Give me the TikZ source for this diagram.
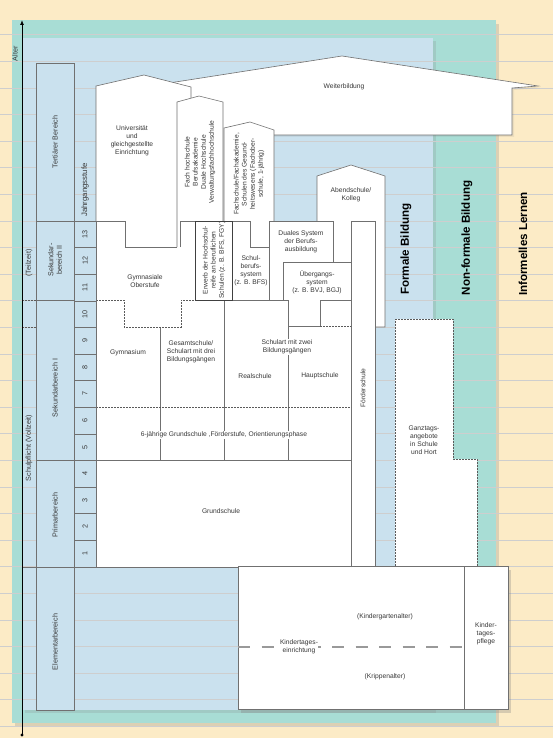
\documentclass[tikz,border=0pt]{standalone}
\usepackage{fontspec}
\setmainfont{Liberation Sans}
\usetikzlibrary{shadows,arrows.meta}
\definecolor{bgbeige}{RGB}{252,235,198}
\definecolor{bgteal}{RGB}{168,221,213}
\definecolor{bgblue}{RGB}{202,225,238}
\definecolor{gridgray}{RGB}{206,206,206}
\definecolor{linegray}{RGB}{112,112,112}
\definecolor{txtgray}{RGB}{55,55,55}
\tikzset{box/.style={draw=linegray,line width=0.6pt}}
\tikzset{dots/.style={draw=linegray!80!black,line width=0.6pt,dash pattern=on 1.6pt off 1.4pt}}
\tikzset{cell/.style={draw=linegray,line width=0.6pt,fill=bgblue}}
\tikzset{lbl/.style={font=\fontsize{6.7}{8.1}\selectfont,text=txtgray,align=center,inner sep=0.5pt}}
\tikzset{head/.style={font=\fontsize{7.2}{8.6}\selectfont,text=txtgray,align=center,rotate=90,inner sep=0.5pt}}
\tikzset{big/.style={font=\fontsize{11.6}{13}\selectfont\bfseries,text=black,rotate=90}}
\begin{document}
\begin{tikzpicture}[x=1pt,y=-1pt]
\useasboundingbox (0,0) rectangle (553,738);
% panels
\fill[bgbeige] (0,0) rectangle (553,738);
\fill[bgteal,drop shadow={shadow xshift=3pt,shadow yshift=-4pt,opacity=.25}] (12,20) rectangle (496,723);
\fill[bgblue,drop shadow={shadow xshift=3pt,shadow yshift=-3pt,opacity=.2}] (22,38) rectangle (433,710);
\foreach \k in {-7,...,19}
  \draw[gridgray,line width=0.7pt] (0,{221+26.6*\k}) -- (553,{221+26.6*\k});
% white areas
\fill[white,drop shadow={shadow xshift=2pt,shadow yshift=-2pt,opacity=.12}] (173,82.4) -- (342,56) -- (538,86) -- (512,88) -- (512,135) -- (200,135) -- (185,95) -- cycle;
\fill[white] (96,567) -- (96,86) -- (144,75) -- (191,87) -- (191,300) -- cycle;
\fill[white] (177,300) -- (177,102) -- (199,96) -- (223,102) -- (223,300) -- cycle;
\fill[white] (223,300) -- (223,128) -- (250,122) -- (274,130) -- (274,300) -- cycle;
\fill[white] (269,221) rectangle (351,300);
\fill[white] (317,221) -- (317,176) -- (351,165) -- (385,176) -- (385,327) -- (351,327) -- cycle;
\fill[white] (96,300) rectangle (375,567);
\fill[white] (351,221) rectangle (375,567);
\filldraw[fill=white,dots] (395,319) -- (453,319) -- (453,459) -- (477,459) -- (477,566) -- (395,566) -- cycle;
\filldraw[fill=white,box,drop shadow={shadow xshift=3pt,shadow yshift=-4pt,opacity=.3}] (238,566) rectangle (508,709);
% outlines
\draw[box] (173,82.4) -- (342,56) -- (538,86) -- (512,88) -- (512,135) -- (274,135);
\draw[box] (96,567) -- (96,86) -- (144,75) -- (191,87) -- (191,98);
\draw[box] (96,221) -- (125,221) -- (125,247) -- (177,247);
\draw[box] (177,247) -- (177,102) -- (199,96) -- (223,102) -- (223,221);
\draw[box] (180,247) -- (180,221) -- (232,221);
\draw[box] (224,221) -- (224,128) -- (250,122) -- (274,130) -- (274,221);
\draw[box] (232,221) -- (250,221) -- (250,247) -- (269,247);
\draw[box] (269,300) -- (269,221) -- (333,221) -- (333,262);
\draw[box] (283,300) -- (283,262) -- (351,262);
\draw[box] (317,221) -- (317,176) -- (351,165) -- (385,176) -- (385,327) -- (375,327);
\draw[box] (195,300) -- (288,300) -- (288,326) -- (320,326) -- (320,300) -- (351,300);
\draw[box] (351,567) -- (351,221) -- (375,221) -- (375,567);
\draw[box] (160,327) -- (160,460) (224,300) -- (224,460) (288,326) -- (288,460);
\draw[box] (96,460) -- (351,460);
\draw[box] (22,567) -- (238,567);
\draw[draw=black!75,line width=0.7pt] (195,221) rectangle (232,300);
\draw[dots] (96,300) -- (124,300) -- (124,327) -- (181,327) -- (181,300) -- (195,300);
\draw[dots] (96,407) -- (351,407);
\draw[dots] (320,326) -- (351,326);
\draw[dots] (22,300) -- (36,300) (22,327) -- (36,327);
\draw[box] (464,566) -- (464,709);
\draw[draw=gray!80,line width=1.2pt,dash pattern=on 12pt off 11.5pt] (238,647) -- (464,647);
% left columns
\draw[cell] (36,63) rectangle (74,221);
\draw[cell] (36,221) rectangle (74,300);
\draw[cell] (36,300) rectangle (74,460);
\draw[cell] (36,460) rectangle (74,567);
\draw[cell] (36,567) rectangle (74,710);
\foreach \n in {1,...,13} {
  \draw[cell] (74,{221+(13-\n)*26.6}) rectangle (96,{247.6+(13-\n)*26.6});
  \node[head] (J\n) at (85,{234.3+(13-\n)*26.6}) {\n};
}
\coordinate (a0) at (22,735);
\coordinate (a1) at (22,20);
\draw[line width=0.9pt,-{Latex[length=5pt,width=4pt]}] (a0) -- (a1);
\fill (a0) circle (1.6);
% labels
\node[head] (AL) at (15,54) {Alter};
\node[head] (TZ) at (29,263) {(Teilzeit)};
\node[head] (VZ) at (29,448) {Schulpflicht (Vollzeit)};
\node[head] (TB) at (55,142) {Tertiärer Bereich};
\node[head] (S2) at (55,260) {Sekundar-\\bereich II};
\node[head] (S1) at (55,388) {Sekundarbereich I};
\node[head] (PB) at (55,515) {Primarbereich};
\node[head] (EB) at (55,642) {Elementarbereich};
\node[head,font=\fontsize{7.8}{9}\selectfont] (JG) at (85,190) {Jahrgangsstufe};
\node[lbl] (U) at (132,141) {Universität\\und\\gleichgestellte\\Einrichtung};
\node[lbl,rotate=90] (FH) at (200,162) {Fach hochschule\\Berufsakademie\\Duale Hochschule\\Verwaltungsfachhochschule};
\node[lbl,rotate=90] (FS) at (249,174) {Fachschule/Fachakademie,\\Schulen des Gesund-\\heitswesens (Fachober-\\schule, 1-jährig)};
\node[lbl] (W) at (344,87) {Weiterbildung};
\node[lbl] (AK) at (351,195) {Abendschule/\\Kolleg};
\node[lbl,rotate=90] (EH) at (214,260) {Erwerb der Hochschul-\\reife an beruflichen\\Schulen (z. B. BFS, FGY)};
\node[lbl] (SB) at (251,271) {Schul-\\berufs-\\system\\(z. B. BFS)};
\node[lbl] (DS) at (301,242) {Duales System\\der Berufs-\\ausbildung};
\node[lbl] (UE) at (317,282) {Übergangs-\\system\\(z. B. BVJ, BGJ)};
\node[lbl] (GO) at (145,281) {Gymnasiale\\Oberstufe};
\node[lbl] (GY) at (128,353) {Gymnasium};
\node[lbl] (GE) at (191,352) {Gesamtschule/\\Schulart mit drei\\Bildungsgängen};
\node[lbl,fill=white] (ZB) at (287,347) {Schulart mit zwei\\Bildungsgängen};
\node[lbl] (RS) at (255,376) {Realschule};
\node[lbl] (HS) at (320,376) {Hauptschule};
\node[lbl,fill=white] (OS) at (224,435) {6-jährige Grundschule ,Förderstufe, Orientierungsphase};
\node[lbl] (GR) at (221,511) {Grundschule};
\node[lbl,rotate=90] (FO) at (363,388) {Förderschule};
\node[lbl] (GT) at (424,440) {Ganztags-\\angebote\\in Schule\\und Hort};
\node[lbl] (KG) at (385,617) {(Kindergartenalter)};
\node[lbl,fill=white] (KE) at (299,647) {Kindertages-\\einrichtung};
\node[lbl] (KR) at (385,677) {(Krippenalter)};
\node[lbl] (KP) at (486,634) {Kinder-\\tages-\\pflege};
\node[big] (FB) at (406,249) {Formale Bildung};
\node[big] (NB) at (467,238) {Non-formale Bildung};
\node[big] (IL) at (523,244) {Informelles Lernen};
\end{tikzpicture}
\end{document}
